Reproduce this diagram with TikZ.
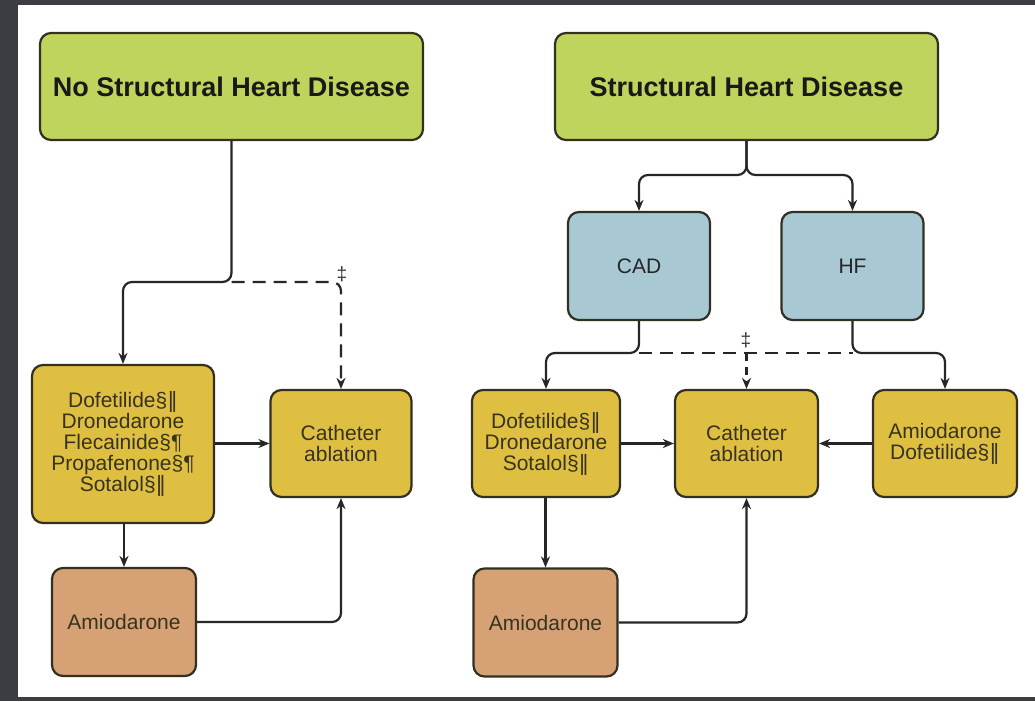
\documentclass[tikz,border=0pt]{standalone}
\usepackage{fontspec}
\setmainfont{Liberation Sans}
\newfontfamily\barfont{DejaVu Sans}
\usetikzlibrary{positioning, calc, arrows.meta}
\definecolor{FrameColor}{rgb}{0.23,0.24,0.26}
\definecolor{HeadColor}{rgb}{0.75,0.83,0.36}
\definecolor{DrugColor}{rgb}{0.87,0.75,0.26}
\definecolor{GroupColor}{rgb}{0.66,0.79,0.83}
\definecolor{AmioColor}{rgb}{0.84,0.63,0.46}
\definecolor{EdgeColor}{rgb}{0.2,0.19,0.13}
\definecolor{InkColor}{rgb}{0.22,0.2,0.12}
\newcommand{\dbar}{{\barfont ‖}}
\tikzset{
    box/.style={
        rectangle,
        rounded corners=11pt,
        align=center,
        draw=EdgeColor,
        line width=2.2pt,
        inner sep=2pt,
        text=InkColor,
        font=\fontsize{21}{21}\selectfont
    },
    head/.style={box, fill=HeadColor, minimum width=383pt, minimum height=107pt, text=black!90, font=\fontsize{27}{30}\selectfont\bfseries},
    group/.style={box, fill=GroupColor, minimum width=142pt, minimum height=108pt, text=black!85},
    drug/.style={box, fill=DrugColor, minimum height=107pt},
    amio/.style={box, fill=AmioColor, minimum width=144pt, minimum height=108pt},
    flow/.style={-{Stealth[length=11pt,width=9pt]}, line width=2.2pt, draw=black!85, rounded corners=9pt},
    optflow/.style={flow, dash pattern=on 13pt off 8pt},
    dagger/.style={font=\fontsize{19}{19}\selectfont, text=black!80}
}

\begin{document}
\begin{tikzpicture}[x=1pt, y=-1pt]

% Frame
\fill[FrameColor] (0,0) rectangle (1035,701);
\fill[white] (18,5) rectangle (1035,697);
\useasboundingbox (0,0) rectangle (1035,701);

% Headers
\node[head] (nshd) at (231.5, 86.5) {No Structural Heart Disease};
\node[head] (shd) at (746.5, 86.5) {Structural Heart Disease};

% No structural heart disease
\node[drug, minimum width=182pt, minimum height=158pt] (ldrugs) at (123, 444)
    {Dofetilide§\dbar\\Dronedarone\\Flecainide§¶\\Propafenone§¶\\Sotalol§\dbar};
\node[drug, minimum width=141pt] (lcath) at (341, 443.5) {Catheter\\ablation};
\node[amio] (lamio) at (124, 622) {Amiodarone};

\coordinate (ljoin) at (231.5, 282);
\draw[flow] (nshd.south) -- (ljoin) -| (ldrugs.north);
\draw[optflow] (ljoin) -| (lcath.north);
\node[dagger] (ldag) at (342, 274) {‡};
\draw[flow] (ldrugs.east |- lcath.west) -- (lcath.west);
\draw[flow] (ldrugs.south -| lamio.north) -- (lamio.north);
\draw[flow] (lamio.east) -| (lcath.south);

% Structural heart disease
\node[group] (cad) at (639, 266) {CAD};
\node[group] (hf) at (852.5, 266) {HF};

\coordinate (rjoin) at (746.5, 175);
\draw[flow] (shd.south) -- (rjoin) -| (cad.north);
\draw[flow] (shd.south) -- (rjoin) -| (hf.north);

\node[drug, minimum width=148pt] (rdrugs) at (546, 443.5)
    {Dofetilide§\dbar\\Dronedarone\\Sotalol§\dbar};
\node[drug, minimum width=143pt] (rcath) at (746.5, 443.5) {Catheter\\ablation};
\node[drug, minimum width=144pt] (hfdrugs) at (945, 443.5) {Amiodarone\\Dofetilide§\dbar};
\node[amio] (ramio) at (545.5, 622.5) {Amiodarone};

\coordinate (cadjoin) at (639, 353);
\coordinate (hfjoin) at (852.5, 353);
\draw[flow] (cad.south) -- (cadjoin) -| (rdrugs.north);
\draw[flow] (hf.south) -- (hfjoin) -| (hfdrugs.north);
\draw[optflow, -] (cadjoin) -- (hfjoin);
\draw[optflow, dash pattern=on 8pt off 6pt] (rcath.north |- cadjoin) -- (rcath.north);
\node[dagger] (rdag) at (746, 340) {‡};

\draw[flow] (rdrugs.east) -- (rcath.west);
\draw[flow] (hfdrugs.west) -- (rcath.east);
\draw[flow] (rdrugs.south -| ramio.north) -- (ramio.north);
\draw[flow] (ramio.east) -| (rcath.south);

\end{tikzpicture}
\end{document}
